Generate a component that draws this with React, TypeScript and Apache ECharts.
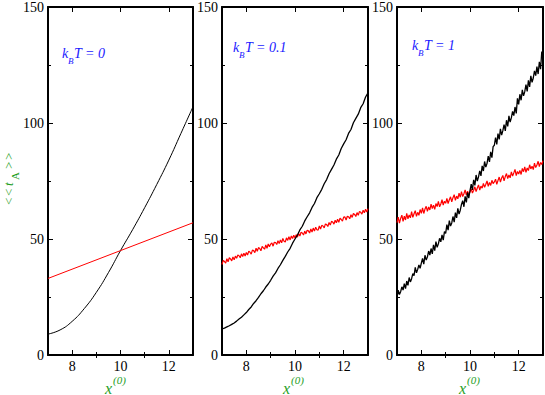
import React, { useEffect, useRef } from "react";
import * as echarts from "echarts";

// ---- data ----
const X_MIN = 7;
const X_MAX = 13;
const Y_MIN = 0;
const Y_MAX = 150;
const X_MAJOR = [8, 10, 12];
const X_MINOR = [9, 11];
const PANEL_TEMPS = ["0", "0.1", "1"];

// Panel 1 (kBT = 0)
const P1_X = [7, 7.5, 8, 8.5, 9, 9.5, 10, 10.5, 11, 11.5, 12, 12.5, 13];
const P1_BLACK = [9, 10.8, 14.5, 20, 27, 35.5, 45, 54, 63.5, 73.5, 84, 95.5, 107];
const P1_RED_X = [7, 10, 13];
const P1_RED = [33, 45, 57];

// Panel 2 (kBT = 0.1); black sampled every 0.1 from x = 7, red every 0.05
const P2_START = 7;
const P2_BLACK_STEP = 0.1;
const P2_RED_STEP = 0.05;
const P2_BLACK = [
  11.2, 11.6, 12.1, 12.6, 13.2, 13.8, 14.6, 15.5, 16.3, 17.3, 18.3,
  19.6, 20.7, 22.2, 23.4, 24.8, 26.4, 27.7, 29.3, 30.6, 32.2,
  34.0, 35.4, 37.3, 38.9, 40.8, 42.5, 44.4, 46.0, 48.2, 50.0,
  51.7, 53.9, 55.5, 57.8, 59.6, 61.3, 63.6, 65.3, 67.8, 69.5,
  71.4, 73.8, 75.6, 78.1, 80.0, 81.9, 84.4, 86.2, 89.0, 91.0,
  92.8, 95.5, 97.2, 100.1, 102.0, 103.8, 106.6, 108.3, 111.2, 113.0,
];
const P2_RED = [
  39.0, 40.8, 40.3, 39.6, 41.5, 40.2, 41.9, 41.4, 40.6, 42.3, 41.0, 42.6, 41.7, 43.1, 42.8, 41.9, 43.6, 42.4, 43.9, 42.7, 44.2,
  43.1, 44.8, 44.3, 43.5, 45.2, 45.0, 44.1, 46.0, 44.7, 46.3, 45.9, 44.9, 46.8, 46.2, 45.6, 47.4, 46.0, 47.9, 46.7, 47.8,
  48.3, 46.9, 48.6, 48.5, 47.6, 49.3, 48.0, 49.6, 48.4, 50.2, 49.0, 48.7, 50.5, 49.4, 51.0, 49.6, 51.3, 50.2, 51.6, 50.4,
  51.9, 50.8, 52.4, 51.3, 52.9, 52.6, 51.7, 53.4, 52.2, 53.8, 53.5, 52.6, 54.3, 53.0, 54.7, 53.4, 55.1, 54.0, 53.8, 55.6,
  54.3, 55.9, 55.6, 54.8, 56.5, 56.2, 55.4, 57.1, 56.0, 57.6, 57.3, 56.4, 58.1, 57.0, 58.5, 57.2, 59.0, 58.4, 57.7, 59.4,
  59.5, 58.2, 59.8, 59.6, 58.7, 60.5, 59.3, 61.0, 60.6, 59.7, 61.4, 60.2, 61.9, 61.5, 60.7, 62.4, 61.3, 62.8, 61.6, 63.1,
];

// Panel 3 (kBT = 1), x from 7 in steps of 0.05
const P3_START = 7;
const P3_STEP = 0.05;
const P3_BLACK = [
  24.6, 27.9, 26.1, 27.3, 29.4, 28.0, 30.8, 28.6, 31.9, 30.0, 33.4, 31.5, 32.9, 35.1, 34.2, 37.8, 35.4, 36.9, 38.8, 37.4, 39.6,
  41.6, 39.2, 43.0, 40.9, 42.3, 44.8, 43.1, 45.9, 43.6, 47.5, 45.0, 48.9, 46.4, 47.9, 50.3, 48.8, 51.8, 49.5, 53.2, 52.4,
  56.2, 53.8, 57.9, 55.6, 56.9, 59.7, 57.3, 61.4, 59.1, 63.2, 60.7, 62.4, 64.9, 66.5, 63.9, 68.4, 65.8, 70.1, 67.6, 70.9,
  73.6, 71.2, 75.5, 73.1, 77.6, 75.0, 76.8, 79.4, 77.2, 81.5, 79.3, 83.4, 81.0, 82.6, 85.7, 83.2, 87.6, 85.1, 89.8, 90.4,
  93.7, 90.8, 95.4, 92.9, 97.5, 94.8, 96.7, 99.3, 96.6, 101.2, 98.5, 103.1, 100.4, 102.3, 105.0, 103.2, 106.9, 104.1, 110.6, 108.0,
  112.4, 109.8, 114.3, 111.7, 113.5, 116.5, 113.6, 118.4, 115.6, 120.3, 117.5, 119.4, 122.5, 120.4, 124.3, 121.1, 126.4, 123.2, 130.8, 127.6,
];
const P3_RED = [
  57.1, 59.4, 56.8, 58.9, 60.3, 57.6, 59.8, 58.2, 61.0, 58.7, 60.4, 59.1, 61.8, 59.3, 60.9, 62.2, 59.8, 61.5, 60.2, 62.7, 61.1,
  63.4, 61.0, 62.9, 64.1, 61.9, 63.8, 62.5, 65.0, 63.1, 64.6, 62.8, 65.3, 64.0, 66.2, 63.9, 65.1, 67.0, 64.6, 66.3, 65.4,
  67.5, 65.3, 66.9, 68.2, 66.0, 67.8, 69.1, 66.7, 68.5, 67.3, 69.8, 68.0, 70.4, 68.3, 69.5, 71.2, 68.9, 70.6, 69.2, 70.3,
  71.6, 69.8, 71.0, 72.5, 70.4, 72.0, 73.3, 71.1, 72.8, 71.9, 74.0, 72.3, 73.6, 75.0, 72.7, 74.4, 73.1, 75.3, 73.9, 74.6,
  75.8, 73.6, 75.2, 76.7, 74.5, 76.3, 77.4, 75.1, 76.9, 78.2, 76.0, 77.6, 76.4, 78.9, 77.1, 78.5, 80.0, 77.3, 79.1, 78.0,
  79.6, 77.8, 80.4, 79.0, 81.1, 78.7, 80.6, 79.5, 82.0, 80.2, 81.4, 79.9, 82.7, 80.8, 81.9, 83.5, 81.2, 83.0, 82.1, 83.8,
];

// ---- helpers ----
const SERIF = "Liberation Serif, Times New Roman, serif";
const GREEN = "#1e9e1e";
const BLUE = "#1a1aff";

function pairs(xs: number[], ys: number[]) {
  return ys.map((y, i) => [xs[i], y]);
}
function grid(start: number, step: number, n: number) {
  return Array.from({ length: n }, (_, i) => Number((start + i * step).toFixed(4)));
}

const GRIDS = [
  { left: 48, width: 145 },
  { left: 222, width: 146 },
  { left: 397, width: 146 },
];

function xAxes(gi: number) {
  const base = {
    gridIndex: gi,
    type: "value",
    min: X_MIN,
    max: X_MAX,
    splitLine: { show: false },
  };
  const line = { show: true, onZero: false, lineStyle: { color: "#000", width: 2 } };
  return [
    {
      ...base,
      position: "bottom",
      axisLine: line,
      axisTick: { show: true, inside: true, length: 5, customValues: X_MAJOR, lineStyle: { color: "#000", width: 1 } },
      axisLabel: { show: true, customValues: X_MAJOR, margin: 4, color: "#000", fontFamily: SERIF, fontSize: 14 },
    },
    {
      ...base,
      position: "bottom",
      axisLine: { show: false },
      axisTick: { show: true, inside: true, length: 3, customValues: X_MINOR, lineStyle: { color: "#000", width: 1 } },
      axisLabel: { show: false },
    },
    {
      ...base,
      position: "top",
      axisLine: line,
      axisTick: { show: true, inside: true, length: 5, customValues: X_MAJOR, lineStyle: { color: "#000", width: 1 } },
      axisLabel: { show: false },
    },
    {
      ...base,
      position: "top",
      axisLine: { show: false },
      axisTick: { show: true, inside: true, length: 3, customValues: X_MINOR, lineStyle: { color: "#000", width: 1 } },
      axisLabel: { show: false },
    },
  ];
}

function yAxes(gi: number) {
  const base = {
    gridIndex: gi,
    type: "value",
    min: Y_MIN,
    max: Y_MAX,
    interval: 50,
    splitLine: { show: false },
    minorSplitLine: { show: false },
    axisLine: { show: true, onZero: false, lineStyle: { color: "#000", width: 2 } },
    axisTick: { show: true, inside: true, length: 5, lineStyle: { color: "#000", width: 1 } },
    minorTick: { show: true, splitNumber: 2, length: 3, lineStyle: { color: "#000", width: 1 } },
  };
  return [
    {
      ...base,
      position: "left",
      axisLabel: { show: true, margin: 4, color: "#000", fontFamily: SERIF, fontSize: 14 },
    },
    { ...base, position: "right", axisLabel: { show: false } },
  ];
}

function line(gi: number, data: number[][], color: string, width = 1, smooth = false) {
  return {
    type: "line",
    xAxisIndex: gi * 4,
    yAxisIndex: gi * 2,
    data,
    smooth,
    symbol: "none",
    showSymbol: false,
    lineStyle: { color, width },
    itemStyle: { color },
    silent: true,
  };
}

function panelTexts(gi: number) {
  const ann = [
    { kx: 62, ky: 53 },
    { kx: 233, ky: 47 },
    { kx: 412, ky: 45 },
  ][gi];
  const xName = [105, 283, 459][gi];
  const it = { fontFamily: SERIF, fontStyle: "italic" };
  return [
    { type: "text", x: ann.kx, y: ann.ky, style: { ...it, text: "k", fontSize: 14, fill: BLUE, verticalAlign: "middle" } },
    { type: "text", x: ann.kx + 6, y: ann.ky + 8, style: { ...it, text: "B", fontSize: 9, fill: BLUE, verticalAlign: "middle" } },
    {
      type: "text",
      x: ann.kx + 12,
      y: ann.ky,
      style: { ...it, text: "T = " + PANEL_TEMPS[gi], fontSize: 14, fill: BLUE, verticalAlign: "middle" },
    },
    { type: "text", x: xName, y: 388, style: { ...it, text: "x", fontSize: 16, fill: GREEN, verticalAlign: "middle" } },
    { type: "text", x: xName + 8, y: 380, style: { ...it, text: "(0)", fontSize: 11, fill: GREEN, verticalAlign: "middle" } },
  ];
}

export default function App() {
  const ref = useRef<HTMLDivElement>(null);
  useEffect(() => {
    if (!ref.current) return;
    const chart = echarts.init(ref.current, null, { renderer: "svg" });
    const p2bx = grid(P2_START, P2_BLACK_STEP, P2_BLACK.length);
    const p2rx = grid(P2_START, P2_RED_STEP, P2_RED.length);
    const p3x = grid(P3_START, P3_STEP, P3_BLACK.length);
    const gs = { fontFamily: SERIF, fill: GREEN, verticalAlign: "middle" };
    chart.setOption({
      animation: false,
      backgroundColor: "#fff",
      grid: GRIDS.map((g) => ({ left: g.left, width: g.width, top: 6, height: 349 })),
      xAxis: [...xAxes(0), ...xAxes(1), ...xAxes(2)],
      yAxis: [...yAxes(0), ...yAxes(1), ...yAxes(2)],
      series: [
        line(0, pairs(P1_X, P1_BLACK), "#000", 1, true),
        line(0, pairs(P1_RED_X, P1_RED), "#ff0000", 1),
        line(1, pairs(p2rx, P2_RED), "#ff0000", 1.2),
        line(1, pairs(p2bx, P2_BLACK), "#000", 1.3),
        line(2, pairs(p3x, P3_RED), "#ff0000", 1.2),
        line(2, pairs(p3x, P3_BLACK), "#000", 1.3),
      ],
      graphic: [
        ...panelTexts(0),
        ...panelTexts(1),
        ...panelTexts(2),
        {
          type: "group",
          x: 8,
          y: 205,
          rotation: Math.PI / 2,
          children: [
            { type: "text", x: 0, y: 0, style: { ...gs, text: "<", fontSize: 13 } },
            { type: "text", x: 9, y: 0, style: { ...gs, text: "<", fontSize: 13 } },
            { type: "text", x: 19, y: 0, style: { ...gs, text: "t", fontSize: 13, fontStyle: "italic" } },
            { type: "text", x: 25, y: 7, style: { ...gs, text: "A", fontSize: 11 } },
            { type: "text", x: 36, y: 0, style: { ...gs, text: ">", fontSize: 13 } },
            { type: "text", x: 45, y: 0, style: { ...gs, text: ">", fontSize: 13 } },
          ],
        },
      ],
    });
    return () => chart.dispose();
  }, []);
  return (
    <div
      ref={ref}
      style={{ position: "fixed", left: 0, top: 0, width: 545, height: 395, background: "#fff" }}
    />
  );
}
